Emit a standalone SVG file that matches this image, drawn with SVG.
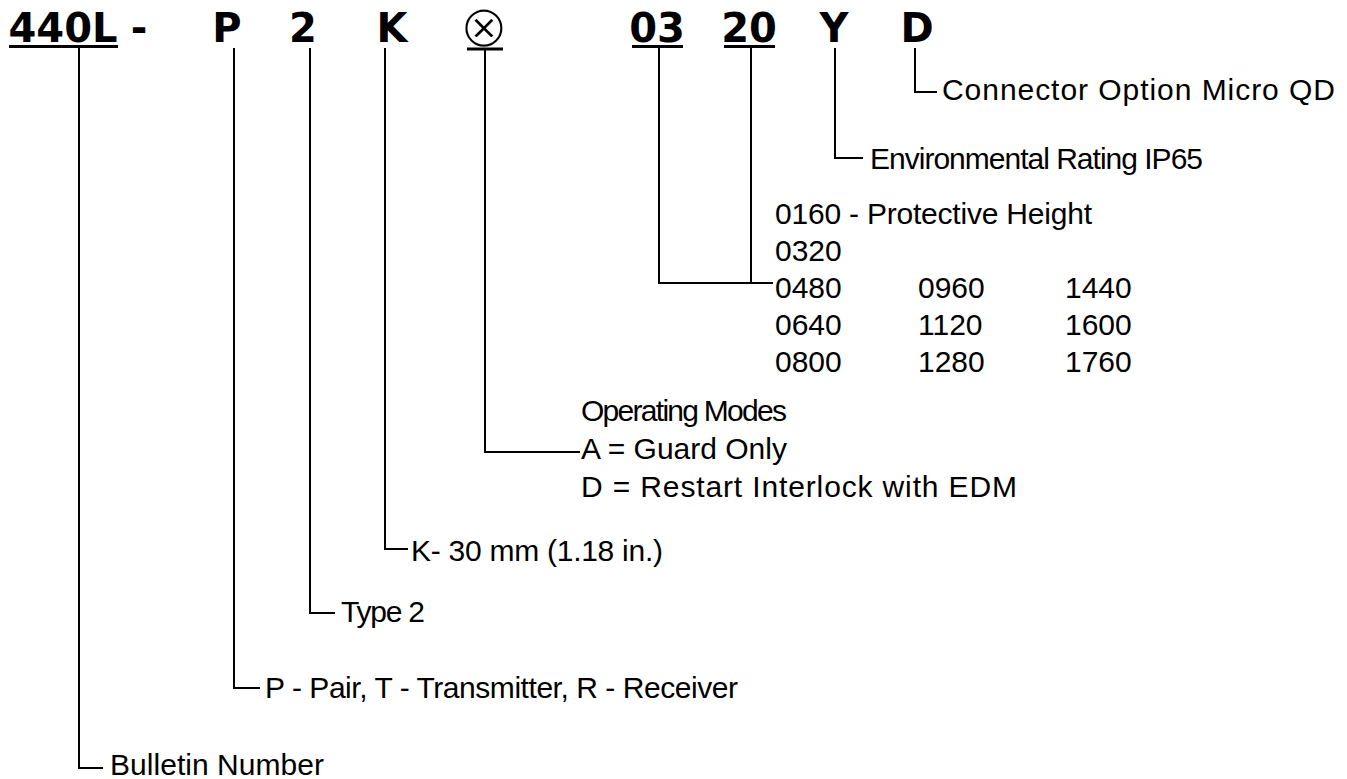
<svg xmlns="http://www.w3.org/2000/svg" width="1347" height="779" viewBox="0 0 1347 779">
<style>
.code{font-family:"DejaVu Sans","Liberation Sans",sans-serif;font-weight:bold;font-size:40px;fill:#000}
.sym{font-family:"DejaVu Sans",sans-serif;font-size:60px;fill:#000;stroke:#fff;stroke-width:2.2px}
.lbl{font-family:"Liberation Sans","Noto Sans",sans-serif;font-size:30px;fill:#000}
.ul{stroke:#000;stroke-width:3;fill:none}
.conn{stroke:#000;stroke-width:2;fill:none}
</style>
<rect width="1347" height="779" fill="#fff"/>
<g id="code">
  <text class="code" x="63" y="42" text-anchor="middle">440L</text>
  <text class="code" x="139" y="42" text-anchor="middle">-</text>
  <text class="code" x="227" y="42" text-anchor="middle">P</text>
  <text class="code" x="303" y="42" text-anchor="middle">2</text>
  <text class="code" x="392" y="42" text-anchor="middle">K</text>
  <text class="sym" x="484" y="47" text-anchor="middle">⊗</text>
  <text class="code" x="657" y="42" text-anchor="middle">03</text>
  <text class="code" x="749" y="42" text-anchor="middle">20</text>
  <text class="code" x="834" y="42" text-anchor="middle">Y</text>
  <text class="code" x="917" y="42" text-anchor="middle">D</text>
  <line class="ul" x1="9" y1="46.5" x2="118" y2="46.5"/>
  <line class="ul" x1="467" y1="49" x2="503" y2="49"/>
  <line class="ul" x1="632" y1="46.5" x2="683" y2="46.5"/>
  <line class="ul" x1="724" y1="46.5" x2="775" y2="46.5"/>
</g>
<g id="connectors">
  <polyline class="conn" points="79,48 79,768 103,768"/>
  <polyline class="conn" points="234,48 234,688 260,688"/>
  <polyline class="conn" points="310,48 310,613 335,613"/>
  <polyline class="conn" points="385,48 385,549 408,549"/>
  <polyline class="conn" points="485,50 485,452 580,452"/>
  <polyline class="conn" points="659,48 659,283 773,283"/>
  <line class="conn" x1="751" y1="48" x2="751" y2="283"/>
  <polyline class="conn" points="835,48 835,158 863,158"/>
  <polyline class="conn" points="915,48 915,92 937,92"/>
</g>
<g id="bulletin"><text class="lbl" x="110" y="775" textLength="214">Bulletin Number</text></g>
<g id="pair"><text class="lbl" x="265" y="698" textLength="473">P - Pair, T - Transmitter, R - Receiver</text></g>
<g id="type"><text class="lbl" x="341" y="622" textLength="84">Type 2</text></g>
<g id="size"><text class="lbl" x="411" y="561" textLength="252">K- 30 mm (1.18 in.)</text></g>
<g id="modes">
  <text class="lbl" x="581" y="421" textLength="206">Operating Modes</text>
  <text class="lbl" x="581" y="459">A = Guard Only</text>
  <text class="lbl" x="581" y="497" textLength="436">D = Restart Interlock with EDM</text>
</g>
<g id="height">
  <text class="lbl" x="775" y="224" textLength="317">0160 - Protective Height</text>
  <text class="lbl" x="775" y="261">0320</text>
  <text class="lbl" x="775" y="298">0480</text>
  <text class="lbl" x="775" y="335">0640</text>
  <text class="lbl" x="775" y="372">0800</text>
  <text class="lbl" x="918" y="298">0960</text>
  <text class="lbl" x="918" y="335">1120</text>
  <text class="lbl" x="918" y="372">1280</text>
  <text class="lbl" x="1065" y="298">1440</text>
  <text class="lbl" x="1065" y="335">1600</text>
  <text class="lbl" x="1065" y="372">1760</text>
</g>
<g id="rating"><text class="lbl" x="870" y="169" textLength="333">Environmental Rating IP65</text></g>
<g id="connector"><text class="lbl" x="942" y="100" textLength="393">Connector Option Micro QD</text></g>
</svg>
